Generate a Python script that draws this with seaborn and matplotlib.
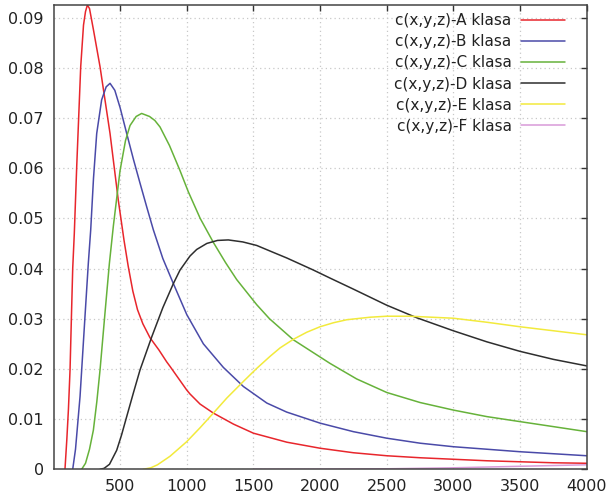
import matplotlib
matplotlib.use("Agg")
import matplotlib.pyplot as plt
import seaborn as sns
import pandas as pd
from matplotlib.lines import Line2D

# values
a_x = [86, 100, 112, 124, 134, 144, 156, 174, 204, 225, 240, 254, 270, 300, 349, 385, 424, 486, 529, 560,
       595, 630, 670, 724, 790, 849, 874, 999, 1024, 1099, 1199, 1350, 1499, 1750, 1999, 2249, 2499, 2750,
       2999, 3250, 3499, 3750, 4000]
a_y = [0.0, 0.0060, 0.0120, 0.0198, 0.0300, 0.0400, 0.0470, 0.0603, 0.0802, 0.0885, 0.0912, 0.0925, 0.0918,
       0.0875, 0.0802, 0.0738, 0.0669, 0.0536, 0.0456, 0.0405, 0.0355, 0.0318, 0.0290, 0.0262, 0.0238,
       0.0214, 0.0205, 0.0158, 0.0150, 0.0130, 0.0112, 0.0090, 0.0072, 0.0054, 0.0042, 0.0033, 0.0027,
       0.0023, 0.0020, 0.0017, 0.0015, 0.0013, 0.0012]

b_x = [144, 165, 199, 236, 261, 279, 300, 324, 361, 395, 424, 460, 500, 549, 600, 649, 700, 749, 820, 899,
       1000, 1124, 1274, 1424, 1600, 1749, 1999, 2249, 2499, 2750, 2999, 3250, 3499, 3750, 4000]
b_y = [0.0, 0.0040, 0.0145, 0.0304, 0.0410, 0.0477, 0.0580, 0.0669, 0.0736, 0.0762, 0.0769, 0.0755, 0.0720,
       0.0669, 0.0617, 0.0570, 0.0522, 0.0477, 0.0420, 0.0370, 0.0308, 0.0250, 0.0203, 0.0165, 0.0132,
       0.0114, 0.0092, 0.0075, 0.0062, 0.0052, 0.0045, 0.0040, 0.0035, 0.0031, 0.0027]

c_x = [211, 240, 270, 299, 325, 349, 386, 419, 449, 499, 540, 574, 620, 661, 720, 760, 799, 870, 949, 1011,
       1100, 1199, 1290, 1374, 1524, 1620, 1799, 2074, 2274, 2500, 2750, 2999, 3250, 3499, 3750, 4000]
c_y = [0.0, 0.0012, 0.0040, 0.0078, 0.0135, 0.0198, 0.0311, 0.0410, 0.0485, 0.0595, 0.0655, 0.0685, 0.0703,
       0.0709, 0.0703, 0.0695, 0.0682, 0.0645, 0.0595, 0.0553, 0.0500, 0.0452, 0.0412, 0.0378, 0.0328,
       0.0300, 0.0258, 0.0211, 0.0180, 0.0153, 0.0133, 0.0118, 0.0105, 0.0095, 0.0085, 0.0075]

d_x = [349, 380, 420, 474, 510, 549, 600, 649, 737, 820, 899, 949, 1024, 1074, 1150, 1230, 1311, 1420, 1524,
       1650, 1750, 1949, 2074, 2249, 2499, 2724, 2999, 3250, 3499, 3750, 4000]
d_y = [0.0, 0.0002, 0.0010, 0.0038, 0.0068, 0.0105, 0.0153, 0.0198, 0.0264, 0.0322, 0.0370, 0.0397, 0.0425,
       0.0438, 0.0450, 0.0456, 0.0457, 0.0453, 0.0446, 0.0432, 0.0421, 0.0397, 0.0381, 0.0359, 0.0327,
       0.0302, 0.0276, 0.0254, 0.0235, 0.0219, 0.0206]

e_x = [674, 730, 780, 874, 999, 1100, 1199, 1300, 1424, 1520, 1624, 1700, 1799, 1899, 1999, 2100, 2200,
       2374, 2499, 2674, 2999, 3250, 3499, 3750, 4000]
e_y = [0.0, 0.0003, 0.0009, 0.0026, 0.0055, 0.0083, 0.0112, 0.0142, 0.0175, 0.0200, 0.0225, 0.0242, 0.0259,
       0.0273, 0.0284, 0.0292, 0.0298, 0.0303, 0.0305, 0.0305, 0.0301, 0.0293, 0.0284, 0.0276, 0.0268]

f_x = [1500, 2000, 2500, 3000, 3500, 4000]
f_y = [0.0, 0.00002, 0.0001, 0.0003, 0.0006, 0.0009]

labels = ["c(x,y,z)-A klasa", "c(x,y,z)-B klasa", "c(x,y,z)-C klasa",
          "c(x,y,z)-D klasa", "c(x,y,z)-E klasa", "c(x,y,z)-F klasa"]
colors = ["#e8262c", "#4a4aa8", "#66b23a", "#2e2e2e", "#f2ea3c", "#d89ad8"]

xs = [a_x, b_x, c_x, d_x, e_x, f_x]
ys = [a_y, b_y, c_y, d_y, e_y, f_y]
frames = []
for lab, x, y in zip(labels, xs, ys):
    frames.append(pd.DataFrame({"x": x, "y": y, "series": lab}))
df = pd.concat(frames, ignore_index=True)

sns.set_style("white")
plt.rcParams["font.family"] = ["DejaVu Sans"]

fig = plt.figure(figsize=(6.06, 5.03), dpi=100)
ax = fig.add_axes([0.0883, 0.067, 0.880, 0.923])

sns.lineplot(data=df, x="x", y="y", hue="series", palette=dict(zip(labels, colors)),
             sort=False, estimator=None, linewidth=1.1, legend=False, ax=ax)

ax.set_xlim(0, 4000)
ax.set_ylim(0, 0.0925)
ax.set_xticks(range(500, 4001, 500))
ax.set_yticks([0, 0.01, 0.02, 0.03, 0.04, 0.05, 0.06, 0.07, 0.08, 0.09])
ax.set_yticklabels(["0", "0.01", "0.02", "0.03", "0.04", "0.05", "0.06", "0.07", "0.08", "0.09"])
ax.set_xlabel("")
ax.set_ylabel("")
ax.grid(True, linestyle=(0, (1, 2.5)), color="#c8c8c8", linewidth=0.9)
ax.tick_params(direction="in", length=4, width=1, colors="#333333", labelcolor="#222222",
               labelsize=11.5, top=True, right=True, pad=7)
for sp in ax.spines.values():
    sp.set_color("#444444")
    sp.set_linewidth(1.1)

handles = [Line2D([], [], color=c, linewidth=1.1) for c in colors]
leg = ax.legend(handles, labels, loc="upper right", bbox_to_anchor=(0.985, 1.012), frameon=False,
                markerfirst=False, fontsize=11, handlelength=2.9, handletextpad=0.6,
                labelspacing=0.4)
for t in leg.get_texts():
    t.set_color("#222222")

fig.savefig("out.png", dpi=100)
